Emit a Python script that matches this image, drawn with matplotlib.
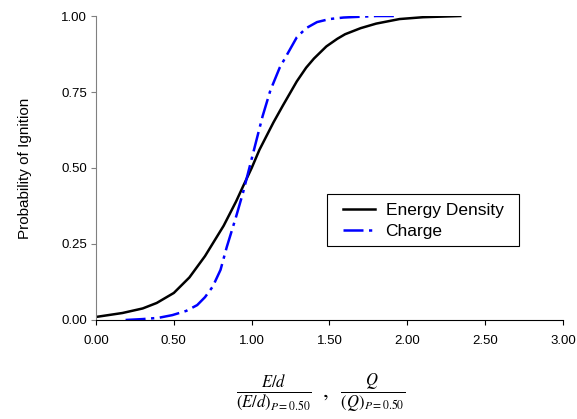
import matplotlib
matplotlib.use('Agg')
import matplotlib.pyplot as plt
from matplotlib.patches import Rectangle

plt.rcParams['font.family'] = ['Liberation Sans', 'DejaVu Sans']
plt.rcParams['mathtext.fontset'] = 'stix'

# Energy density curve (normalised)
energy_x = [0.0, 0.17, 0.3, 0.39, 0.5, 0.6, 0.7, 0.82, 0.9, 0.945, 1.0,
            1.05, 1.14, 1.2, 1.29, 1.35, 1.4, 1.48, 1.55, 1.6, 1.7, 1.8,
            1.95, 2.1, 2.34]
energy_y = [0.010, 0.023, 0.038, 0.056, 0.089, 0.140, 0.210, 0.310, 0.390,
            0.440, 0.500, 0.560, 0.650, 0.705, 0.785, 0.830, 0.860, 0.900,
            0.925, 0.940, 0.960, 0.975, 0.990, 0.996, 1.000]

# Charge curve (normalised)
charge_x = [0.19, 0.3, 0.4, 0.49, 0.58, 0.65, 0.7, 0.75, 0.8, 0.84, 0.9,
            0.945, 1.0, 1.07, 1.12, 1.18, 1.29, 1.35, 1.42, 1.5, 1.59, 1.8,
            1.94]
charge_y = [0.0, 0.003, 0.007, 0.016, 0.030, 0.049, 0.075, 0.110, 0.165,
            0.240, 0.340, 0.420, 0.530, 0.670, 0.755, 0.830, 0.930, 0.960,
            0.980, 0.990, 0.995, 1.000, 1.000]

xticks = [0.0, 0.5, 1.0, 1.5, 2.0, 2.5, 3.0]
yticks = [0.0, 0.25, 0.5, 0.75, 1.0]

fig = plt.figure(figsize=(5.77, 4.19), dpi=100)
ax = fig.add_axes([0.1664, 0.2363, 0.8093, 0.7255])

ax.plot(energy_x, energy_y, color='black', lw=1.8, label='Energy Density')
ax.plot(charge_x, charge_y, color='#0000ff', lw=1.8,
        linestyle=(0, (8, 2.2, 1.3, 2.2)), label='Charge')

ax.set_xlim(0, 3.0)
ax.set_ylim(0, 1.0)
ax.set_xticks(xticks)
ax.set_yticks(yticks)
ax.set_xticklabels(['%.2f' % v for v in xticks])
ax.set_yticklabels(['%.2f' % v for v in yticks])
ax.tick_params(labelsize=9.5, length=3.6, direction='out')
ax.tick_params(axis='x', pad=7)
ax.tick_params(axis='y', pad=3, color='#808080')

for s in ['top', 'right']:
    ax.spines[s].set_visible(False)
ax.spines['left'].set_color('#808080')
ax.spines['bottom'].set_color('black')

ax.set_ylabel('Probability of Ignition', fontsize=11)
ax.yaxis.set_label_coords(-0.137, 0.5)

# legend box drawn separately so its padding matches the original
ax.add_patch(Rectangle((0.495, 0.243), 0.411, 0.171, transform=ax.transAxes,
                       facecolor='white', edgecolor='black', lw=0.8,
                       zorder=4))
leg = ax.legend(loc='center left', bbox_to_anchor=(0.529, 0.326),
                fontsize=12.5, frameon=False, handlelength=1.85,
                handletextpad=0.6, borderpad=0, labelspacing=0.35,
                borderaxespad=0)
leg.set_zorder(5)

fig.text(0.555, 0.062,
         r'$\frac{E/d}{\left(E/d\right)_{P=0.50}}\;\;,\;\;\frac{Q}{\left(Q\right)_{P=0.50}}$',
         ha='center', va='center', fontsize=17)

fig.savefig('out.png', dpi=100)
